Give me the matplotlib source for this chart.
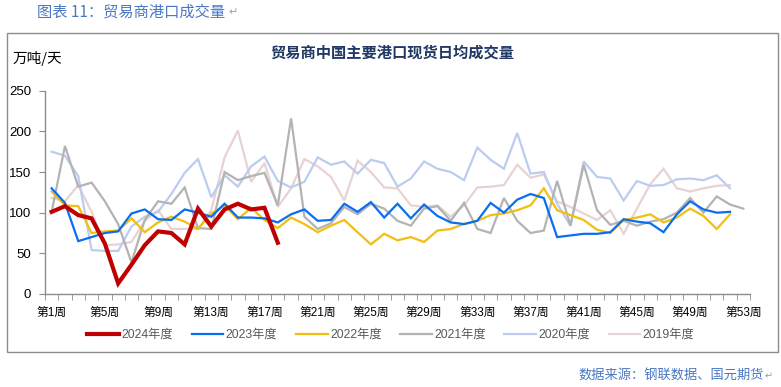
import matplotlib
matplotlib.use("Agg")
import matplotlib.pyplot as plt
from matplotlib.patches import Rectangle
import numpy as np

W, H = 781, 387

weeks = list(range(1, 54))
tick_weeks = [1, 5, 9, 13, 17, 21, 25, 29, 33, 37, 41, 45, 49, 53]
tick_labels = [f"第{w}周" for w in tick_weeks]

y2024 = [101, 108, 97, 93, 62, 13, 36, 60, 77, 75, 61, 105, 83, 104, 111, 104, 106, 63]
y2023 = [130, 112, 65, 70, 75, 77, 99, 104, 92, 91, 104, 100, 95, 111, 94, 94, 93, 88,
         98, 104, 90, 91, 111, 101, 113, 94, 111, 93, 110, 96, 88, 86, 90, 112, 100,
         116, 123, 118, 70, 72, 74, 74, 76, 92, 89, 87, 76, 98, 114, 104, 100, 101]
y2022 = [126, 109, 108, 75, 77, 78, 93, 76, 88, 95, 89, 80, 99, 109, 92, 106, 91, 81,
         94, 86, 76, 84, 91, 76, 61, 74, 66, 70, 64, 78, 80, 86, 90, 97, 99, 103, 109,
         130, 103, 97, 91, 79, 75, 91, 94, 98, 88, 94, 105, 96, 80, 98]
y2021 = [101, 182, 132, 137, 114, 86, 39, 91, 114, 111, 131, 81, 80, 150, 140, 145,
         149, 109, 216, 95, 80, 87, 107, 98, 111, 105, 90, 84, 105, 108, 90, 112, 80,
         75, 118, 90, 75, 78, 139, 84, 159, 103, 85, 90, 84, 89, 92, 100, 118, 100,
         120, 110, 105]
y2020 = [175, 170, 145, 54, 53, 53, 83, 95, 101, 123, 149, 166, 119, 146, 132, 157,
         169, 139, 131, 138, 168, 159, 163, 148, 165, 161, 132, 142, 163, 154, 150,
         140, 180, 165, 154, 198, 148, 150, 111, 84, 163, 144, 142, 115, 139, 133,
         134, 141, 142, 140, 146, 130]
y2019 = [118, 114, 134, 101, 60, 61, 64, 90, 103, 80, 80, 80, 103, 168, 201, 138, 161,
         107, 130, 166, 157, 144, 115, 164, 150, 131, 130, 109, 107, 109, 95, 109, 131,
         132, 134, 159, 143, 147, 114, 107, 99, 91, 103, 74, 105, 135, 154, 130, 126,
         130, 133, 134]

series = [
    ("2024年度", y2024, "#C00000", 3.0),
    ("2023年度", y2023, "#0A6EF0", 1.6),
    ("2022年度", y2022, "#F2BE0F", 1.6),
    ("2021年度", y2021, "#B3B3B3", 1.6),
    ("2020年度", y2020, "#BCCCF0", 1.6),
    ("2019年度", y2019, "#E8D2D2", 1.6),
]

plt.rcParams['font.family'] = ['Liberation Sans', 'Noto Sans CJK SC', 'DejaVu Sans']

fig = plt.figure(figsize=(W / 100, H / 100), dpi=100)

def fx(x):
    return x / W

def fy(y):
    return 1 - y / H

# chart frame
fig.patches.append(Rectangle((fx(7), fy(352)), fx(778) - fx(7), fy(33) - fy(352),
                             transform=fig.transFigure, fill=False,
                             edgecolor="#8C8C8C", linewidth=1.0))

# caption & footer
fig.text(fx(37), fy(12), "图表 11：贸易商港口成交量", color="#4A78C2", fontsize=11,
         family=['Noto Sans CJK SC', 'DejaVu Sans'], va="center", ha="left")
fig.text(fx(228), fy(12), "↵", color="#A0A0A0", fontsize=8,
         family=['DejaVu Sans'], va="center", ha="left")
fig.text(fx(764), fy(376), "数据来源：钢联数据、国元期货", color="#4A78C2", fontsize=9.5,
         family=['Noto Sans CJK SC', 'DejaVu Sans'], va="center", ha="right")
fig.text(fx(765), fy(376), "↵", color="#A0A0A0", fontsize=7,
         family=['DejaVu Sans'], va="center", ha="left")

# chart title and unit
fig.text(fx(392), fy(53), "贸易商中国主要港口现货日均成交量", color="#1F3864", fontsize=11,
         fontweight="bold", family=['Noto Sans CJK SC', 'DejaVu Sans'],
         va="center", ha="center")
fig.text(fx(13), fy(58), "万吨/天", color="#000000", fontsize=10.5,
         family=['Noto Sans CJK SC', 'DejaVu Sans'], va="center", ha="left")

ax = fig.add_axes([fx(45), fy(294), fx(750) - fx(45), fy(90.7) - fy(294)])

for name, vals, color, lw in series[::-1]:
    ax.plot(weeks[:len(vals)], vals, color=color, linewidth=lw, label=name,
            solid_joinstyle="miter", zorder=3 if name == "2024年度" else 2)

ax.set_xlim(0.5, 53.5)
ax.set_ylim(0, 250)
ax.set_yticks([0, 50, 100, 150, 200, 250])
ax.set_xticks(tick_weeks)
ax.set_xticklabels(tick_labels)
ax.set_xticks(np.arange(0.5, 54, 1), minor=True)
ax.tick_params(axis="x", which="major", length=0, pad=9, labelsize=8.5,
               colors="#000000")
ax.tick_params(axis="x", which="minor", length=4, direction="out", color="#8C8C8C")
ax.tick_params(axis="y", length=4, direction="out", color="#8C8C8C",
               labelsize=9.5, pad=6)
for s in ["top", "right"]:
    ax.spines[s].set_visible(False)
for s in ["left", "bottom"]:
    ax.spines[s].set_color("#8C8C8C")
    ax.spines[s].set_linewidth(1.0)

handles, labels = ax.get_legend_handles_labels()
handles = handles[::-1]
labels = labels[::-1]
leg = fig.legend(handles, labels, loc="center", bbox_to_anchor=(fx(391), fy(335)),
                 ncol=6, frameon=False, handlelength=2.6, columnspacing=1.5,
                 handletextpad=0.2, prop={'size': 8.8})
for t in leg.get_texts():
    t.set_color("#595959")

fig.savefig("out.png", dpi=100)
